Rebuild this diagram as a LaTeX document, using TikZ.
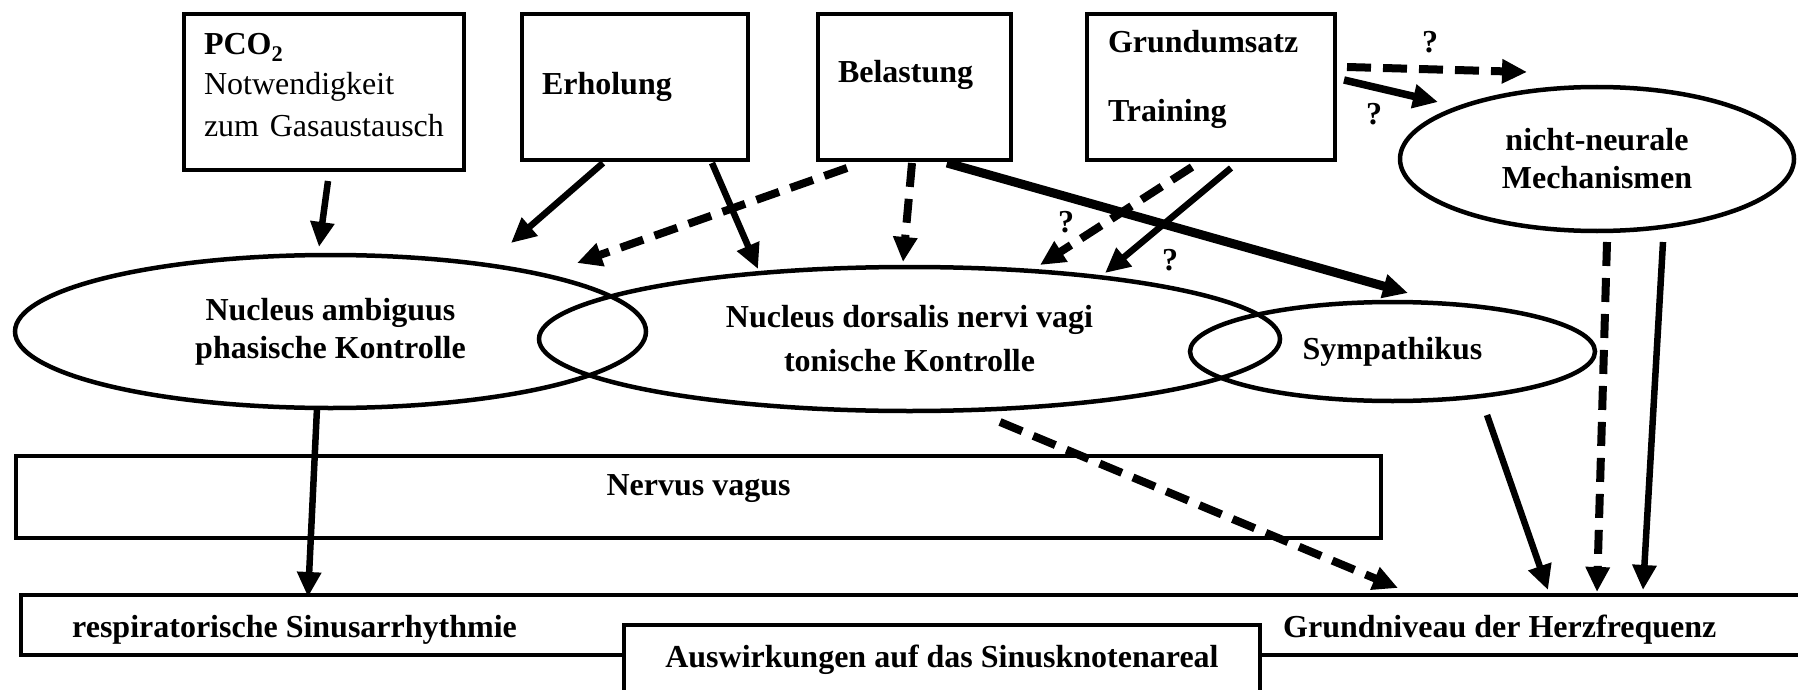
\documentclass[tikz,border=0pt]{standalone}
\usepackage{fontspec}
\setmainfont{Liberation Serif}
\usepackage{tikz}
\usetikzlibrary{arrows.meta, shapes.geometric}

\begin{document}
\begin{tikzpicture}[x=1pt, y=-1pt, >={Triangle[length=25pt, width=23pt]},
    font=\fontsize{32}{38}\selectfont\bfseries,
    kasten/.style={draw, rectangle, line width=4.5pt, inner sep=0pt, outer sep=0pt},
    kern/.style={draw, ellipse, line width=4.5pt, inner sep=0pt, outer sep=0pt, align=center},
    pfeil/.style={->, line width=6.5pt},
    gpfeil/.style={->, line width=8pt, dash pattern=on 24pt off 12pt},
    frage/.style={inner sep=0pt}]
    \clip (0,0) rectangle (1798,690);

    % Einflussgroessen oben
    \node[kasten, minimum width=280pt, text width=240pt, align=left, text height=41pt, text depth=115pt] (pco2) at (324,92)
        {PCO\textsubscript{2}\\[2pt] \mdseries Notwendigkeit\\[4pt] zum Gasaustausch};
    \node[kasten, minimum width=226pt, text width=186pt, align=left, text height=81pt, text depth=65pt] (erholung) at (635,87) {Erholung};
    \node[kasten, minimum width=193pt, text width=153pt, align=left, text height=69pt, text depth=77pt] (belastung) at (914.5,87) {Belastung};
    \node[kasten, minimum width=248pt, text width=206pt, align=left, text height=39pt, text depth=107pt] (grund) at (1211,87)
        {Grundumsatz\\[31pt] Training};

    % Kerne und Mechanismen
    \node[kern, minimum width=631pt, minimum height=153pt] (ambiguus) at (330.5,331.5) {Nucleus ambiguus\\phasische Kontrolle};
    \node[kern, minimum width=741pt, minimum height=144pt] (dorsalis) at (909.5,339) {Nucleus dorsalis nervi vagi\\[6pt]tonische Kontrolle};
    \node[kern, minimum width=405pt, minimum height=99pt] (sympathikus) at (1392.5,351.5) {Sympathikus};
    \node[kern, minimum width=394pt, minimum height=144pt] (nichtneural) at (1597,159) {nicht-neurale\\Mechanismen};

    % Nerv und Sinusknoten
    \node[kasten, minimum width=1365pt, text height=39pt, text depth=43pt] (vagus) at (698.5,497) {Nervus vagus};
    \node[kasten, minimum width=1809pt, minimum height=60pt] (basis) at (925.5,625) {};
    \node[anchor=base west, inner sep=0pt] (rsa) at (72,637) {respiratorische Sinusarrhythmie};
    \node[anchor=base west, inner sep=0pt] (hf) at (1283,637) {Grundniveau der Herzfrequenz};
    \node[kasten, fill=white, minimum width=636pt, text height=42pt, text depth=43pt] (auswirkung) at (942,667.5)
        {Auswirkungen auf das Sinusknotenareal};

    % Fragezeichen
    \node[frage] (q1) at (1430,42) {?};
    \node[frage] (q2) at (1374,114) {?};
    \node[frage] (q3) at (1066,222) {?};
    \node[frage] (q4) at (1170,260) {?};

    % Einfluesse auf die Kerne
    \draw[pfeil] ([xshift=4pt,yshift=-11pt]pco2.south) -- ([xshift=-11.5pt,yshift=8pt]ambiguus.north);
    \draw[pfeil] ([xshift=-32pt,yshift=-3pt]erholung.south) -- ([xshift=180.5pt,yshift=12pt]ambiguus.north);
    \draw[pfeil] ([xshift=77pt,yshift=-3pt]erholung.south) -- ([xshift=-151.5pt,yshift=-2pt]dorsalis.north);
    \draw[gpfeil] ([xshift=-67.5pt,yshift=-8pt]belastung.south) -- ([xshift=246.5pt,yshift=-8pt]ambiguus.north);
    \draw[gpfeil] ([xshift=-2.5pt,yshift=-3pt]belastung.south) -- ([xshift=-6.5pt,yshift=5pt]dorsalis.north);
    \draw[pfeil, line width=9pt] ([xshift=32.5pt,yshift=-3pt]belastung.south) -- ([xshift=15.5pt,yshift=9pt]sympathikus.north);
    \draw[gpfeil] ([xshift=-19pt,yshift=-7pt]grund.south) -- ([xshift=130.5pt,yshift=2pt]dorsalis.north);
    \draw[pfeil] ([xshift=20pt,yshift=-8pt]grund.south) -- ([xshift=195.5pt,yshift=-6pt]dorsalis.north);
    \draw[gpfeil] ([xshift=12pt,yshift=20pt]grund.east) -- ([xshift=-70pt,yshift=15pt]nichtneural.north);
    \draw[pfeil, line width=7.5pt] ([xshift=9pt,yshift=7pt]grund.east) -- ([xshift=-159pt,yshift=-15pt]nichtneural.north);

    % Auswirkungen auf das Sinusknotenareal
    \draw[gpfeil] ([xshift=10pt,yshift=-11pt]nichtneural.south) -- ([yshift=3pt]nichtneural.south |- basis.north);
    \draw[pfeil] ([xshift=66pt,yshift=-11pt]nichtneural.south) -- ([xshift=46pt,yshift=5pt]nichtneural.south |- basis.north);
    \draw[pfeil] ([xshift=94.5pt,yshift=-14pt]sympathikus.south) -- ([xshift=155.5pt,yshift=5pt]sympathikus.south |- basis.north);
    \draw[gpfeil] ([xshift=90.5pt,yshift=-11pt]dorsalis.south) -- ([xshift=488.5pt,yshift=7pt]dorsalis.south |- basis.north);
    \draw[pfeil] ([xshift=-13.5pt]ambiguus.south) -- ([xshift=-22.5pt,yshift=-2pt]ambiguus.south |- basis.north);
\end{tikzpicture}
\end{document}
